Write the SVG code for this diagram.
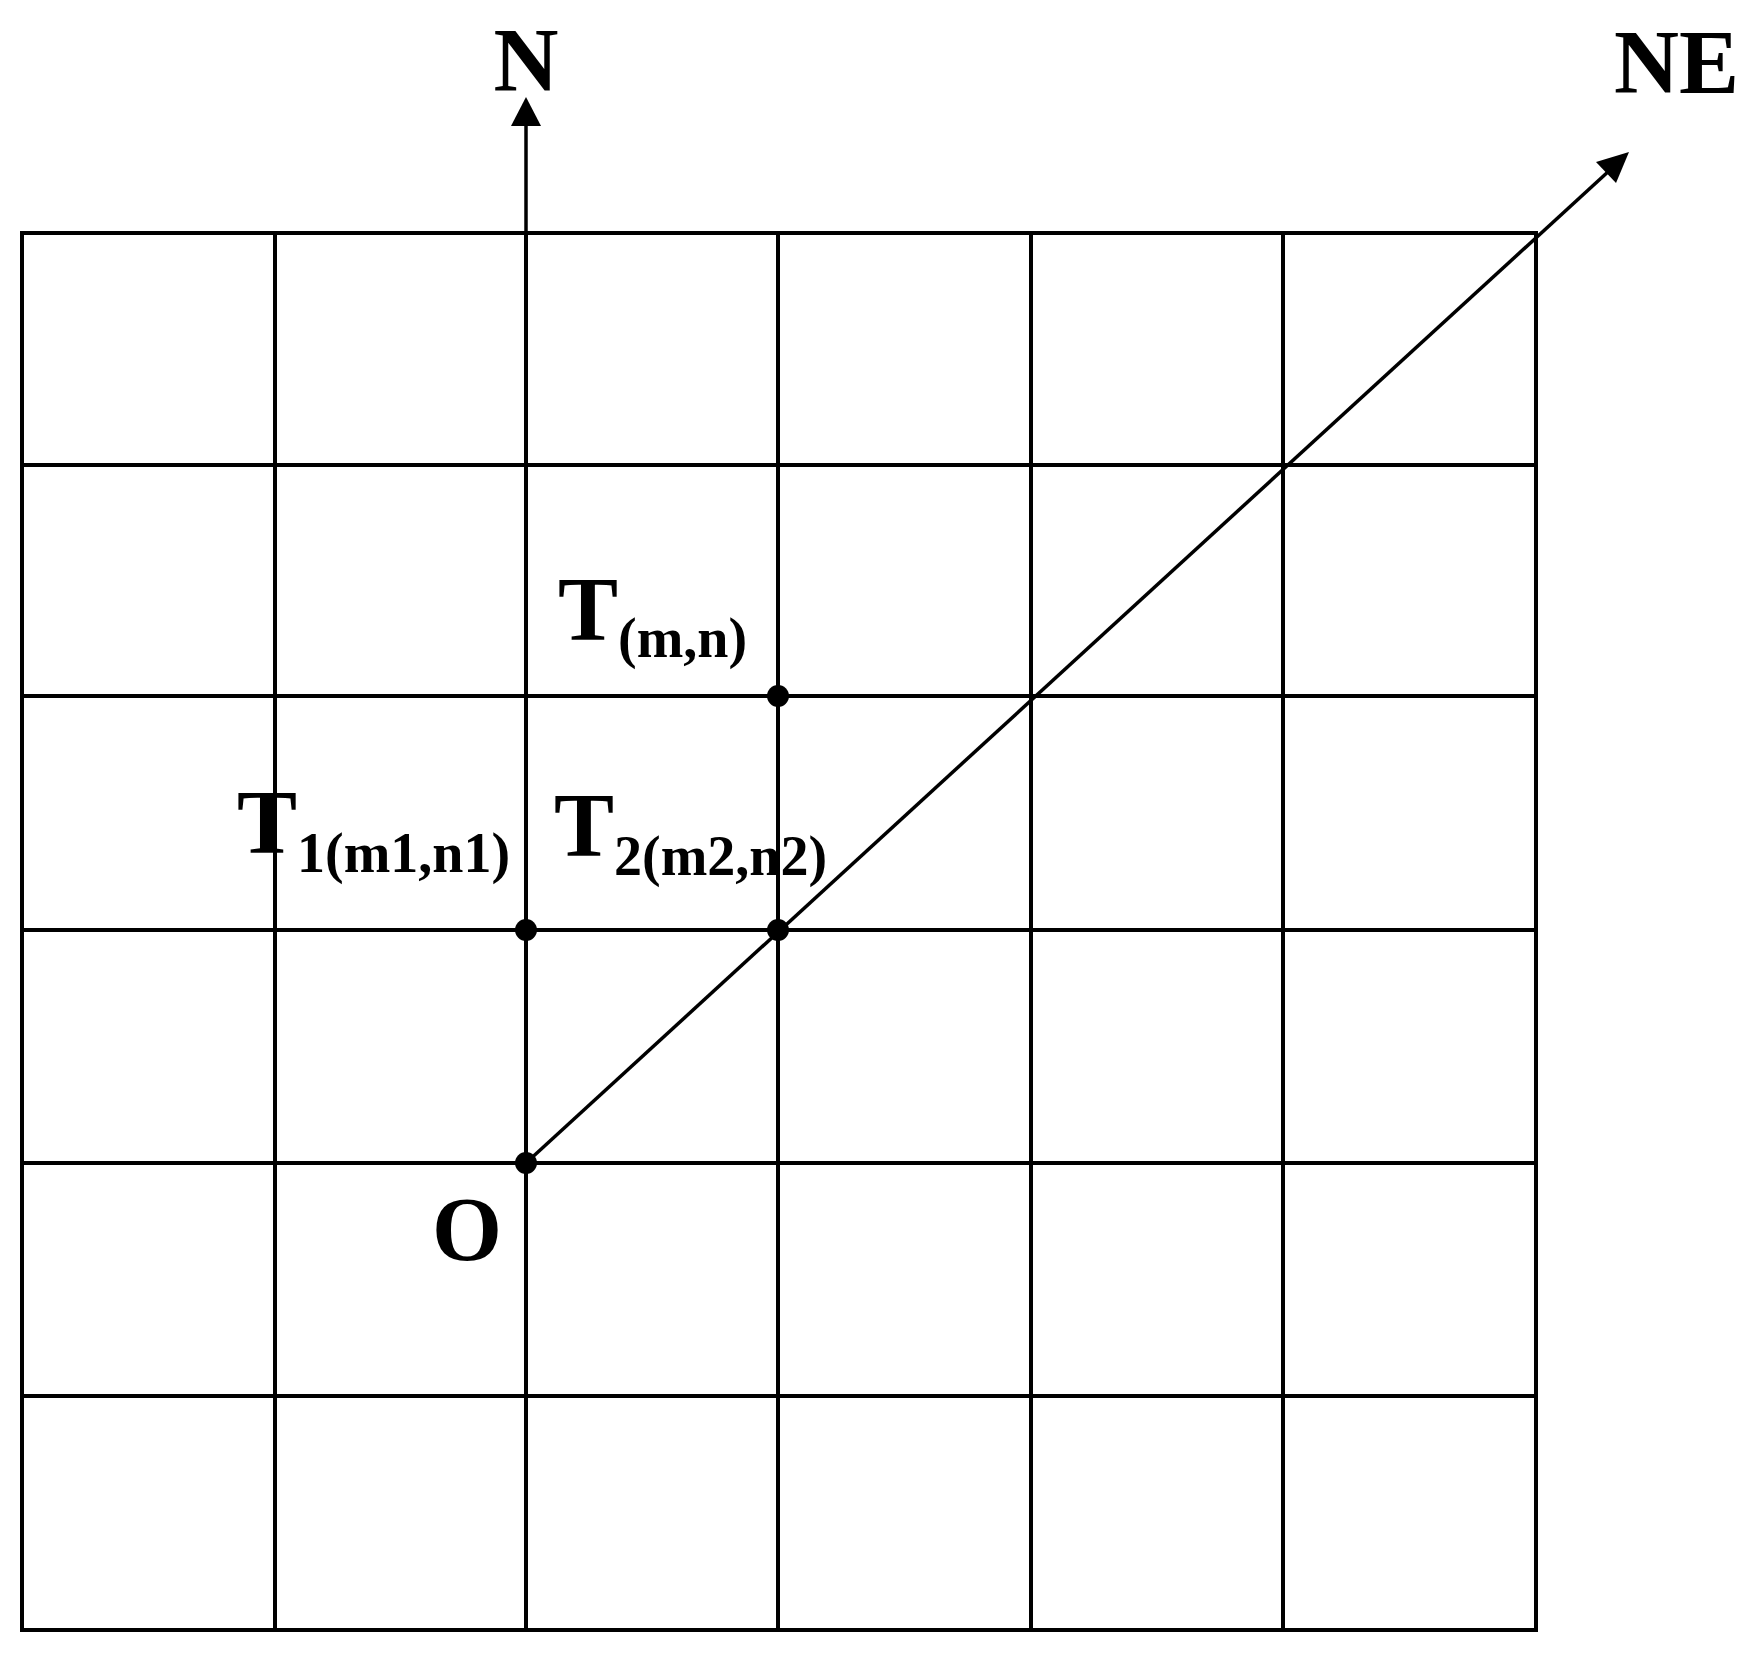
<svg xmlns="http://www.w3.org/2000/svg" width="1757" height="1660" viewBox="0 0 1757 1660">
<defs>
<style>
.grid{stroke:#000;stroke-width:4;fill:none}
.ax{stroke:#000;stroke-width:3.5;fill:none}
.lbl{font-family:"Liberation Serif","Times New Roman",serif;font-weight:bold;fill:#000}
.big{font-size:90px}
.sub{font-size:56px}
.dot{fill:#000}
</style>
</defs>
<rect width="1757" height="1660" fill="#fff"/>
<g id="grid">
<rect class="grid" x="22" y="233" width="1514" height="1397"/>
<line class="grid" x1="275" y1="233" x2="275" y2="1630"/>
<line class="grid" x1="526" y1="233" x2="526" y2="1630"/>
<line class="grid" x1="778" y1="233" x2="778" y2="1630"/>
<line class="grid" x1="1031" y1="233" x2="1031" y2="1630"/>
<line class="grid" x1="1283" y1="233" x2="1283" y2="1630"/>
<line class="grid" x1="22" y1="465" x2="1536" y2="465"/>
<line class="grid" x1="22" y1="696" x2="1536" y2="696"/>
<line class="grid" x1="22" y1="930" x2="1536" y2="930"/>
<line class="grid" x1="22" y1="1163" x2="1536" y2="1163"/>
<line class="grid" x1="22" y1="1396" x2="1536" y2="1396"/>
</g>
<g id="connectors">
<line class="ax" x1="526" y1="233" x2="526" y2="120"/>
<path d="M526,97 L541,126 L511,126 Z" fill="#000"/>
<line class="ax" x1="526" y1="1163" x2="1610" y2="170"/>
<path d="M1629,152 L1616,183 L1596,162 Z" fill="#000"/>
</g>
<g id="node-N"><text class="lbl big" x="526" y="91" text-anchor="middle">N</text></g>
<g id="node-NE"><text class="lbl big" x="1614" y="93">NE</text></g>
<g id="node-O">
<circle class="dot" cx="526" cy="1163" r="11"/>
<text class="lbl big" x="432" y="1260">O</text>
</g>
<g id="node-T">
<circle class="dot" cx="778" cy="696" r="11"/>
<text class="lbl" x="558" y="640"><tspan class="big">T</tspan><tspan class="sub" dy="17">(m,n)</tspan></text>
</g>
<g id="node-T1">
<circle class="dot" cx="526" cy="930" r="11"/>
<text class="lbl" x="237" y="853"><tspan class="big">T</tspan><tspan class="sub" dy="19">1(m1,n1)</tspan></text>
</g>
<g id="node-T2">
<circle class="dot" cx="778" cy="930" r="11"/>
<text class="lbl" x="554" y="856"><tspan class="big">T</tspan><tspan class="sub" dy="19">2(m2,n2)</tspan></text>
</g>
</svg>
